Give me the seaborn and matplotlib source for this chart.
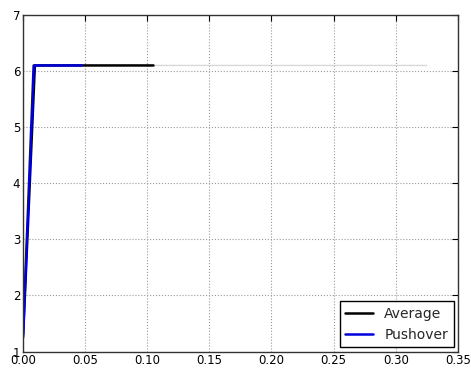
import matplotlib
matplotlib.use("Agg")
import matplotlib.pyplot as plt
import seaborn as sns

# Datos
records_x = [0.0, 0.009, 0.325]
records_y = [1.3, 6.1, 6.1]
average_x = [0.0, 0.0095, 0.105]
average_y = [1.25, 6.1, 6.1]
pushover_x = [0.0, 0.0085, 0.047]
pushover_y = [1.3, 6.1, 6.1]

sns.set_style("white")
plt.rcParams['font.family'] = ['DejaVu Sans']

fig, ax = plt.subplots(figsize=(4.71, 3.74), dpi=100)

sns.lineplot(x=records_x, y=records_y, ax=ax, color="#d9d9d9", linewidth=1.0,
             sort=False, estimator=None)
sns.lineplot(x=average_x, y=average_y, ax=ax, color="black", linewidth=1.8,
             sort=False, estimator=None, label="Average")
sns.lineplot(x=pushover_x, y=pushover_y, ax=ax, color="#0000dd", linewidth=1.8,
             sort=False, estimator=None, label="Pushover")

ax.set_xlim(0, 0.35)
ax.set_ylim(1, 7)
ax.set_xticks([0.0, 0.05, 0.10, 0.15, 0.20, 0.25, 0.30, 0.35])
ax.set_xticklabels(["0.00", "0.05", "0.10", "0.15", "0.20", "0.25", "0.30", "0.35"])
ax.set_yticks(range(1, 8))
ax.grid(True, linestyle=":", color="#999999", linewidth=0.8)
ax.tick_params(direction="in", top=True, right=True, length=4, labelsize=8.5,
               colors="black", pad=2)
for s in ax.spines.values():
    s.set_color("#333333")
    s.set_linewidth(1.0)

leg = ax.legend(loc="lower right", fontsize=10, fancybox=False, framealpha=1,
                edgecolor="black", borderaxespad=0.3)

fig.subplots_adjust(left=0.049, right=0.972, top=0.96, bottom=0.06)
fig.savefig("out.png", dpi=100)
